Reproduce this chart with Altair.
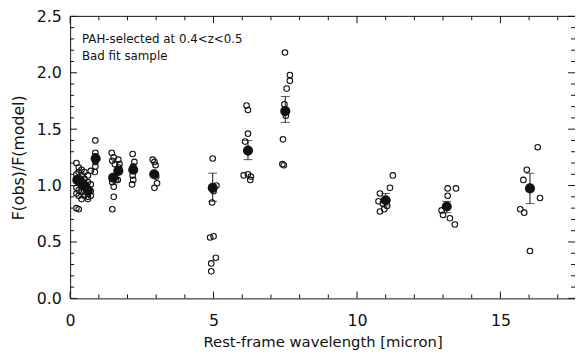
import altair as alt
import pandas as pd

# ---------------- data ----------------
open_x = [0.22, 0.22, 0.22, 0.22, 0.22, 0.22,
          0.30, 0.30, 0.30, 0.30, 0.30, 0.30, 0.30,
          0.40, 0.40, 0.40, 0.40, 0.40, 0.40,
          0.50, 0.50, 0.50, 0.50, 0.50,
          0.62, 0.62, 0.62, 0.62, 0.62, 0.62,
          0.72, 0.72, 0.72, 0.72,
          0.88, 0.88, 0.88, 0.88, 0.88, 0.86,
          1.45, 1.52, 1.47, 1.56, 1.47, 1.52, 1.52, 1.47, 1.60,
          1.68, 1.72, 1.70, 1.66,
          2.18, 2.24, 2.20, 2.18, 2.20, 2.16,
          2.88, 2.94, 2.98, 3.00, 3.03, 2.94,
          4.97, 5.10, 5.00, 4.95, 4.88, 5.00, 4.92, 5.08, 4.92,
          6.15, 6.20, 6.20, 6.10, 6.05, 6.20, 6.30, 6.28,
          7.49, 7.66, 7.66, 7.55, 7.47, 7.52, 7.42, 7.40, 7.45,
          11.25, 11.15, 10.80, 10.75, 10.90, 11.05, 10.95, 10.80,
          13.16, 13.45, 13.16, 13.24, 13.41, 12.95, 13.00,
          15.92, 16.30, 15.80, 16.38, 15.69, 15.83, 16.03]
open_y = [1.20, 1.10, 1.05, 0.98, 0.93, 0.80,
          1.16, 1.12, 1.07, 1.02, 0.96, 0.91, 0.79,
          1.14, 1.09, 1.03, 0.99, 0.94, 0.88,
          1.12, 1.06, 1.00, 0.95, 0.91,
          1.09, 1.03, 0.97, 0.93, 0.90, 0.88,
          1.13, 1.01, 0.95, 0.91,
          1.40, 1.29, 1.26, 1.21, 1.17, 1.12,
          1.29, 1.25, 1.22, 1.19, 1.03, 0.99, 0.90, 0.79, 1.05,
          1.23, 1.19, 1.16, 1.05,
          1.28, 1.21, 1.17, 1.09, 1.05, 1.01,
          1.23, 1.21, 1.18, 1.08, 1.02, 0.98,
          1.24, 1.00, 0.95, 0.85, 0.54, 0.55, 0.31, 0.36, 0.24,
          1.71, 1.67, 1.46, 1.39, 1.09, 1.10, 1.08, 1.05,
          2.18, 1.98, 1.93, 1.86, 1.72, 1.62, 1.41, 1.19, 1.18,
          1.09, 0.98, 0.93, 0.86, 0.84, 0.82, 0.79, 0.77,
          0.975, 0.975, 0.91, 0.71, 0.655, 0.78, 0.74,
          1.14, 1.34, 1.05, 0.89, 0.79, 0.76, 0.42]

mean_x = [0.25, 0.38, 0.50, 0.62, 0.89, 1.50, 1.68, 2.20, 2.93,
          4.97, 6.20, 7.50, 11.00, 13.13, 16.03]
mean_y = [1.05, 1.03, 1.00, 0.96, 1.24, 1.07, 1.13, 1.14, 1.10,
          0.98, 1.31, 1.66, 0.87, 0.815, 0.975]

err_x = [4.97, 6.20, 7.50, 11.00, 13.13, 16.03]
err_lo = [0.86, 1.23, 1.56, 0.82, 0.76, 0.84]
err_hi = [1.11, 1.40, 1.79, 0.93, 0.86, 1.11]

x_major = [0, 5, 10, 15]
x_minor = [1, 2, 3, 4, 6, 7, 8, 9, 11, 12, 13, 14, 16, 17]
y_major = [0.0, 0.5, 1.0, 1.5, 2.0, 2.5]
y_minor = [0.1, 0.2, 0.3, 0.4, 0.6, 0.7, 0.8, 0.9, 1.1, 1.2, 1.3, 1.4,
           1.6, 1.7, 1.8, 1.9, 2.1, 2.2, 2.3, 2.4]

annot_lines = ["PAH-selected at 0.4<z<0.5", "Bad fit sample"]
x_title = "Rest-frame wavelength [micron]"
y_title = "F(obs)/F(model)"

# ---------------- chart ----------------
W, H = 512, 286
FONT = "DejaVu Sans"
INK = "#111111"

xs = alt.Scale(domain=[0, 17.6], nice=False, zero=False)
ys = alt.Scale(domain=[0, 2.5], nice=False, zero=False)

opens = pd.DataFrame({"x": open_x, "y": open_y})
means = pd.DataFrame({"x": mean_x, "y": mean_y})
errs = pd.DataFrame({"x": err_x, "lo": err_lo, "hi": err_hi})
xmaj = pd.DataFrame({"v": x_major})
xmin = pd.DataFrame({"v": x_minor})
ymaj = pd.DataFrame({"v": y_major})
ymin = pd.DataFrame({"v": y_minor})

x_axis = alt.Axis(values=x_major, format="d", ticks=False, grid=False,
                  domain=True, domainColor=INK, domainWidth=1,
                  labelFont=FONT, labelFontSize=16, labelColor=INK,
                  labelPadding=15, labelFlush=False,
                  title=x_title, titleFont=FONT, titleFontSize=15,
                  titleFontWeight="normal", titleColor=INK,
                  titlePadding=6)
y_axis = alt.Axis(values=y_major, format=".1f", ticks=False, grid=False,
                  domain=True, domainColor=INK, domainWidth=1,
                  labelFont=FONT, labelFontSize=16, labelColor=INK,
                  labelPadding=9, labelFlush=False,
                  title=y_title, titleFont=FONT, titleFontSize=16,
                  titleFontWeight="normal", titleColor=INK,
                  titlePadding=10)


def X(field):
    return alt.X(field, scale=xs, axis=x_axis)


def Y(field):
    return alt.Y(field, scale=ys, axis=y_axis)


pts = alt.Chart(opens).mark_point(filled=False, color=INK, size=32,
                                  strokeWidth=1.1, opacity=1).encode(
    x=X("x:Q"), y=Y("y:Q"))

err_lines = alt.Chart(errs).mark_rule(color=INK, strokeWidth=1).encode(
    x=X("x:Q"), y=Y("lo:Q"), y2="hi:Q")
cap_lo = alt.Chart(errs).mark_tick(color=INK, orient="horizontal", size=9,
                                   thickness=1).encode(x=X("x:Q"), y=Y("lo:Q"))
cap_hi = alt.Chart(errs).mark_tick(color=INK, orient="horizontal", size=9,
                                   thickness=1).encode(x=X("x:Q"), y=Y("hi:Q"))

mean_pts = alt.Chart(means).mark_circle(color=INK, size=105, opacity=1).encode(
    x=X("x:Q"), y=Y("y:Q"))

MAJ, MIN = 7, 4


def yticks(df, length, right=False):
    x0 = W if right else 0
    x1 = W - length if right else length
    return alt.Chart(df).mark_rule(color=INK, strokeWidth=1).encode(
        y=Y("v:Q"), x=alt.value(x0), x2=alt.value(x1))


def xticks(df, length, top=False):
    y0 = 0 if top else H
    y1 = length if top else H - length
    return alt.Chart(df).mark_rule(color=INK, strokeWidth=1).encode(
        x=X("v:Q"), y=alt.value(y0), y2=alt.value(y1))


top_line = alt.Chart(pd.DataFrame({"v": [2.5]})).mark_rule(
    color=INK, strokeWidth=1).encode(
    y=Y("v:Q"), x=alt.value(0), x2=alt.value(W))

one = pd.DataFrame({"a": [0]})
txt1 = alt.Chart(one).mark_text(align="left", baseline="middle", font=FONT,
                                fontSize=12, color=INK).encode(
    x=alt.value(12), y=alt.value(23), text=alt.value(annot_lines[0]))
txt2 = alt.Chart(one).mark_text(align="left", baseline="middle", font=FONT,
                                fontSize=12, color=INK).encode(
    x=alt.value(12), y=alt.value(40), text=alt.value(annot_lines[1]))

chart = alt.layer(
    pts, err_lines, cap_lo, cap_hi, mean_pts,
    yticks(ymaj, MAJ), yticks(ymin, MIN),
    yticks(ymaj, MAJ, right=True), yticks(ymin, MIN, right=True),
    xticks(xmaj, MAJ), xticks(xmin, MIN),
    xticks(xmaj, MAJ, top=True), xticks(xmin, MIN, top=True),
    top_line, txt1, txt2,
).properties(
    width=W, height=H,
    padding={"left": 63, "top": 6, "right": 0, "bottom": 60},
    autosize=alt.AutoSizeParams(type="none"),
    background="white",
).configure_view(strokeWidth=0)

chart.save("out.html", embed_options={"renderer": "svg", "actions": False})
